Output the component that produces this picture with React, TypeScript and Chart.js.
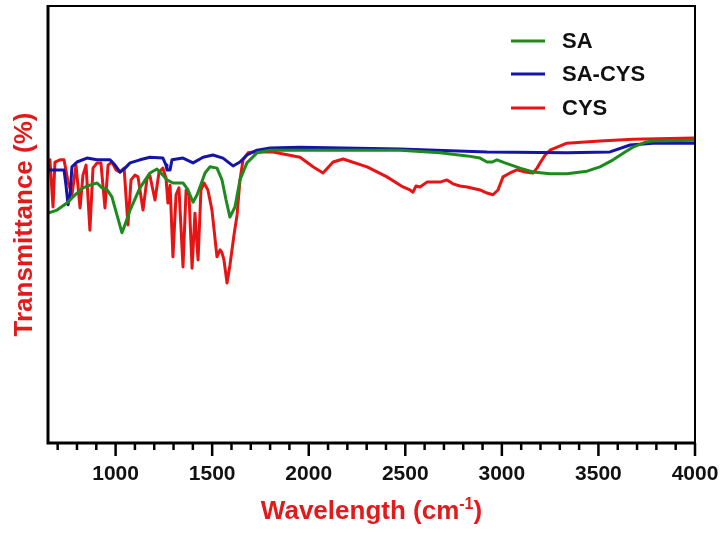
import React, { useEffect, useRef } from "react";
import { Chart, registerables } from "chart.js";

Chart.register(...registerables);

// ---- Data (wavenumber cm-1, transmittance %) ----
const saWavenumber = [650, 697, 748, 779, 831, 867, 904, 930, 956, 981, 1007, 1033, 1054, 1075, 1126, 1178, 1214, 1245, 1266, 1297, 1349, 1375, 1401, 1422, 1437, 1463, 1489, 1525, 1551, 1572, 1592, 1618, 1644, 1680, 1732, 1800, 1955, 2214, 2473, 2680, 2820, 2887, 2923, 2949, 2975, 3016, 3094, 3161, 3249, 3337, 3441, 3508, 3576, 3638, 3679, 3741, 3783, 4000];
const saTransmittance = [52.6, 53.3, 54.9, 56.3, 58.4, 59.0, 59.5, 58.4, 57.9, 56.3, 52.2, 48.1, 50.6, 53.3, 58.4, 61.8, 62.7, 61.3, 60.2, 59.5, 59.5, 57.9, 55.1, 56.8, 58.6, 61.8, 63.2, 62.9, 60.2, 55.6, 51.7, 54.0, 60.2, 64.1, 66.4, 67.0, 67.0, 67.0, 67.0, 66.4, 65.7, 65.2, 64.3, 64.3, 64.8, 64.1, 62.9, 62.0, 61.6, 61.6, 62.2, 63.2, 64.8, 66.6, 67.7, 68.8, 69.1, 69.3];

const saCysWavenumber = [650, 733, 743, 754, 764, 774, 800, 852, 904, 971, 997, 1023, 1049, 1075, 1126, 1178, 1245, 1261, 1266, 1282, 1292, 1349, 1401, 1453, 1504, 1556, 1608, 1644, 1680, 1732, 1800, 1955, 2473, 2923, 3337, 3560, 3664, 3783, 4000];
const saCysTransmittance = [62.5, 62.5, 59.0, 54.5, 56.8, 63.2, 64.3, 65.2, 64.8, 64.8, 63.6, 62.0, 62.9, 64.1, 64.8, 65.4, 65.2, 63.6, 62.5, 62.5, 64.8, 65.2, 64.1, 65.4, 65.9, 65.2, 63.4, 64.3, 65.9, 67.0, 67.5, 67.7, 67.3, 66.6, 66.4, 66.6, 68.2, 68.6, 68.6];

const cysWavenumber = [650, 660, 676, 686, 712, 733, 754, 774, 795, 816, 831, 847, 867, 883, 904, 924, 945, 961, 981, 1002, 1023, 1044, 1064, 1080, 1100, 1116, 1142, 1163, 1178, 1204, 1225, 1245, 1261, 1271, 1282, 1297, 1313, 1328, 1349, 1365, 1380, 1396, 1411, 1427, 1442, 1458, 1478, 1499, 1525, 1541, 1551, 1561, 1577, 1592, 1613, 1629, 1644, 1660, 1686, 1711, 1815, 1955, 2022, 2074, 2126, 2178, 2302, 2405, 2488, 2524, 2540, 2555, 2576, 2612, 2680, 2716, 2747, 2783, 2820, 2887, 2923, 2954, 2980, 3006, 3042, 3078, 3120, 3161, 3182, 3198, 3224, 3249, 3337, 3508, 3679, 4000];
const cysTransmittance = [64.8, 64.8, 54.0, 64.3, 64.8, 64.8, 59.7, 56.8, 63.6, 53.8, 61.3, 63.6, 48.7, 62.9, 64.1, 64.1, 53.8, 63.6, 64.3, 62.5, 62.0, 62.9, 49.9, 60.2, 61.3, 60.9, 53.3, 60.6, 61.1, 55.6, 62.0, 62.9, 60.6, 54.9, 59.0, 42.6, 56.8, 58.4, 40.3, 57.9, 56.8, 40.0, 52.6, 41.9, 57.9, 59.5, 57.9, 53.3, 42.6, 44.2, 43.5, 41.9, 36.6, 40.7, 47.6, 52.2, 60.2, 64.8, 66.4, 66.6, 66.6, 65.4, 63.2, 61.8, 64.3, 65.0, 63.2, 60.9, 58.6, 57.9, 57.4, 58.8, 58.6, 59.7, 59.7, 60.2, 59.3, 58.8, 58.6, 57.9, 57.2, 56.8, 57.9, 60.9, 61.8, 62.5, 62.0, 61.8, 62.9, 64.1, 65.9, 67.0, 68.6, 69.1, 69.5, 69.8];

const seriesLabels = ["SA", "SA-CYS", "CYS"];
const seriesColors = ["#1d8a1d", "#1414a8", "#e61414"];

const xMin = 650;
const xMax = 4000;
const tickValues = [700, 800, 900, 1000, 1100, 1200, 1300, 1400, 1500, 1600, 1700, 1800, 1900, 2000, 2100, 2200, 2300, 2400, 2500, 2600, 2700, 2800, 2900, 3000, 3100, 3200, 3300, 3400, 3500, 3600, 3700, 3800, 3900, 4000];
const labeledTicks = [1000, 1500, 2000, 2500, 3000, 3500, 4000];

const TITLE_RED = "#e31a1c";
const FONT = "'Liberation Sans', Arial, sans-serif";

function zip(xs: number[], ys: number[]) {
  return xs.map((x, i) => ({ x, y: ys[i] }));
}

const framePlugin = {
  id: "frame",
  afterDraw(chart: any) {
    const { ctx, chartArea } = chart;
    const { left, right, top, bottom } = chartArea;
    const xs = chart.scales.x;
    ctx.save();
    ctx.strokeStyle = "#000";
    ctx.lineCap = "butt";
    ctx.lineWidth = 2;
    ctx.beginPath();
    ctx.moveTo(left, top);
    ctx.lineTo(right, top);
    ctx.lineTo(right, bottom);
    ctx.stroke();
    ctx.lineWidth = 3;
    ctx.beginPath();
    ctx.moveTo(left, top - 1);
    ctx.lineTo(left, bottom);
    ctx.lineTo(right + 1, bottom);
    ctx.stroke();
    ctx.lineWidth = 2.5;
    for (const v of tickValues) {
      const px = xs.getPixelForValue(v);
      const len = labeledTicks.includes(v) ? 13 : 7;
      ctx.beginPath();
      ctx.moveTo(px, bottom);
      ctx.lineTo(px, bottom + len);
      ctx.stroke();
    }
    const legendY = [41, 74, 108];
    ctx.font = `bold 22px ${FONT}`;
    ctx.textBaseline = "middle";
    ctx.textAlign = "left";
    chart.data.datasets.forEach((ds: any, i: number) => {
      ctx.strokeStyle = ds.borderColor;
      ctx.lineWidth = 3;
      ctx.beginPath();
      ctx.moveTo(511, legendY[i]);
      ctx.lineTo(545, legendY[i]);
      ctx.stroke();
      ctx.fillStyle = "#111";
      ctx.fillText(ds.label, 562, legendY[i] + 1);
    });
    const main1 = "Wavelength (cm";
    const sup = "-1";
    const main2 = ")";
    const bigFont = `bold 26px ${FONT}`;
    const supFont = `bold 16px ${FONT}`;
    ctx.font = bigFont;
    const w1 = ctx.measureText(main1).width;
    const w3 = ctx.measureText(main2).width;
    ctx.font = supFont;
    const w2 = ctx.measureText(sup).width;
    const total = w1 + w2 + w3;
    const cx = (left + right) / 2;
    let x = cx - total / 2;
    const baseY = 519;
    ctx.fillStyle = TITLE_RED;
    ctx.textBaseline = "alphabetic";
    ctx.font = bigFont;
    ctx.fillText(main1, x, baseY);
    x += w1;
    ctx.font = supFont;
    ctx.fillText(sup, x, baseY - 10);
    x += w2;
    ctx.font = bigFont;
    ctx.fillText(main2, x, baseY);
    ctx.restore();
  },
};

export default function App() {
  const canvasRef = useRef<HTMLCanvasElement | null>(null);

  useEffect(() => {
    const canvas = canvasRef.current;
    if (!canvas) return;
    const datasets = [
      { label: seriesLabels[0], data: zip(saWavenumber, saTransmittance), borderColor: seriesColors[0] },
      { label: seriesLabels[1], data: zip(saCysWavenumber, saCysTransmittance), borderColor: seriesColors[1] },
      { label: seriesLabels[2], data: zip(cysWavenumber, cysTransmittance), borderColor: seriesColors[2] },
    ].map((d) => ({
      ...d,
      backgroundColor: d.borderColor,
      borderWidth: 3,
      pointRadius: 0,
      tension: 0,
      fill: false,
      borderJoinStyle: "round" as const,
      borderCapStyle: "round" as const,
    }));

    const chart = new Chart(canvas, {
      type: "line",
      data: { datasets },
      options: {
        animation: false,
        responsive: false,
        maintainAspectRatio: false,
        parsing: false as any,
        layout: { padding: { left: 0, top: 6, right: 30, bottom: 0 } },
        plugins: { legend: { display: false }, tooltip: { enabled: false } },
        scales: {
          x: {
            type: "linear",
            min: xMin,
            max: xMax,
            grid: { display: false, drawTicks: false },
            border: { display: false },
            afterBuildTicks: (scale: any) => {
              scale.ticks = tickValues.map((v) => ({ value: v }));
            },
            afterFit: (scale: any) => {
              scale.height = 90;
              scale.paddingLeft = 0;
              scale.paddingRight = 0;
            },
            ticks: {
              autoSkip: false,
              maxRotation: 0,
              padding: 19,
              color: "#111",
              font: { family: FONT, size: 21, weight: "bold" },
              callback: (v: any) => (labeledTicks.includes(Number(v)) ? String(v) : ""),
            },
          },
          y: {
            type: "linear",
            min: 0,
            max: 100,
            grid: { display: false, drawTicks: false },
            border: { display: false },
            ticks: { display: false },
            afterFit: (scale: any) => {
              scale.width = 48;
              scale.paddingTop = 0;
              scale.paddingBottom = 0;
            },
            title: {
              display: true,
              text: "Transmittance (%)",
              color: TITLE_RED,
              padding: { top: 9, bottom: 0 },
              font: { family: FONT, size: 26, weight: "bold" },
            },
          },
        },
      },
      plugins: [framePlugin],
    });
    return () => chart.destroy();
  }, []);

  return (
    <div style={{ position: "fixed", left: 0, top: 0, width: 725, height: 533, background: "#fff" }}>
      <canvas ref={canvasRef} width={725} height={533} style={{ display: "block", width: 725, height: 533 }} />
    </div>
  );
}
